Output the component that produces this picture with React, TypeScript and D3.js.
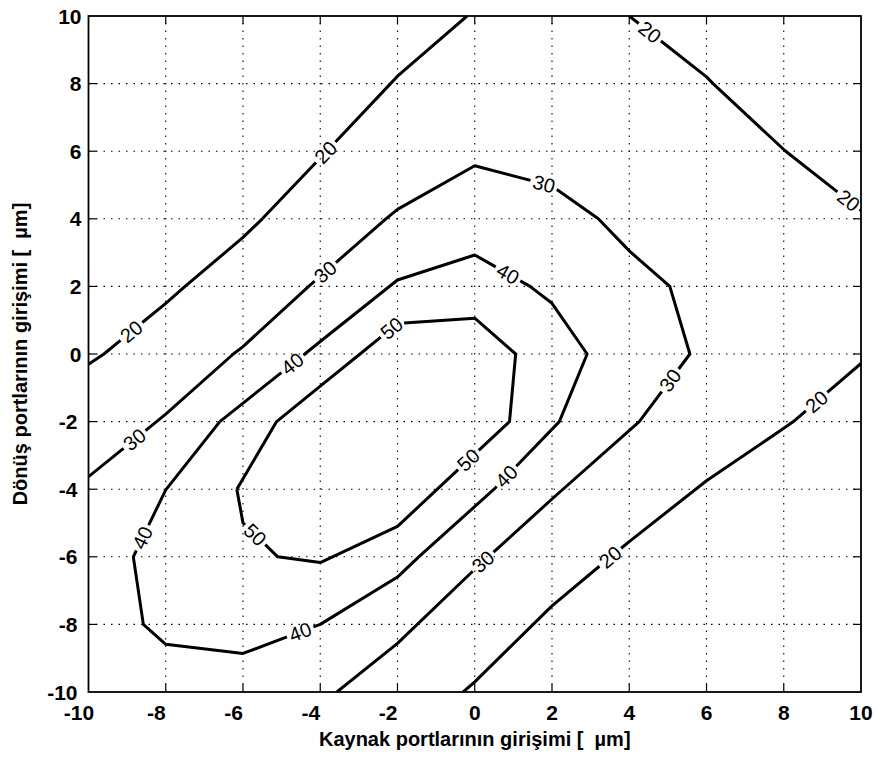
import * as d3 from 'd3';

type P = [number, number];

// contour vertices (data units)
const contour20a: P[] = [[-10, -0.3], [-9.6, 0], [-8, 1.5], [-7.5, 2], [-6, 3.45], [-5.5, 4], [-4, 5.8], [-3.83, 6], [-2.18, 8], [-2, 8.22], [-0.2, 10]];
const contour20b: P[] = [[4.0, 10], [6, 8.2], [6.17, 8], [8, 6.05], [8.05, 6], [10, 4.25]];
const contour20c: P[] = [[-0.3, -10], [0, -9.7], [2, -7.45], [3.52, -6], [4, -5.55], [6, -3.75], [8, -2.2], [8.25, -2], [10, -0.28]];
const contour30: P[] = [[-10, -3.63], [-8, -1.78], [-6.25, 0], [-6, 0.22], [-4.3, 2], [-4, 2.3], [-2.3, 4], [-2, 4.28], [0, 5.57], [2, 4.97], [3.2, 4], [4, 3.05], [5.05, 2], [5.57, 0], [4.26, -2], [2, -4.29], [0, -6.37], [-2, -8.56], [-3.57, -10]];
const contour40: P[] = [[-6.6, -2], [-4.4, 0], [-4, 0.37], [-2, 2.19], [0, 2.93], [1.43, 2], [2, 1.5], [2.91, 0], [2.19, -2], [0.5, -4], [-1.45, -6], [-2, -6.6], [-4, -8.0], [-6, -8.86], [-8, -8.59], [-8.58, -8], [-8.84, -6], [-8, -4.02], [-6.6, -2]];
const contour50: P[] = [[-6.16, -4], [-6, -3.69], [-5.13, -2], [-4, -0.95], [-2.97, 0], [-2, 0.9], [0, 1.06], [1.06, 0], [0.9, -2], [0, -2.96], [-0.97, -4], [-2, -5.1], [-4, -6.17], [-5.1, -6], [-6, -5.0], [-6.16, -4]];

// inline label positions
const labels20a: P[] = [[-8.92, 0.71], [-3.87, 5.98]];
const labels20b: P[] = [[4.54, 9.53], [9.63, 4.47]];
const labels20c: P[] = [[3.5, -6.0], [8.85, -1.41]];
const labels30: P[] = [[-8.97, -2.3], [-3.87, 2.43], [1.8, 5.05], [5.05, -0.77], [0.22, -6.15]];
const labels40: P[] = [[-4.75, -0.25], [0.85, 2.35], [0.83, -3.63], [-4.52, -8.22], [-8.58, -5.45]];
const labels50: P[] = [[-2.15, 0.76], [-0.12, -3.19], [-5.73, -5.4]];

const xTicks = [-10, -8, -6, -4, -2, 0, 2, 4, 6, 8, 10];
const yTicks = [-10, -8, -6, -4, -2, 0, 2, 4, 6, 8, 10];

const xTitle = 'Kaynak portlarının girişimi [\u00a0\u00a0µm]';
const yTitle = 'Dönüş portlarının girişimi [\u00a0\u00a0µm]';

const contours = [
  { level: 20, pts: contour20a, labels: labels20a },
  { level: 20, pts: contour20b, labels: labels20b },
  { level: 20, pts: contour20c, labels: labels20c },
  { level: 30, pts: contour30, labels: labels30 },
  { level: 40, pts: contour40, labels: labels40 },
  { level: 50, pts: contour50, labels: labels50 },
];

const [W, H] = [876, 757];
const [left, right, top, bottom] = [88.5, 861, 16, 692];
const x = d3.scaleLinear().domain([-10, 10]).range([left, right]);
const y = d3.scaleLinear().domain([-10, 10]).range([bottom, top]);
const line = d3.line<number[]>().x(d => d[0]).y(d => d[1]);

const font = 'Liberation Sans, Arial, Helvetica, sans-serif';
const labelSize = 20;

function splitContour(pts: P[], labels: P[], gapHalf: number) {
  const p = pts.map(d => [x(d[0]), y(d[1])]);
  const cum = [0];
  for (let i = 1; i < p.length; i++) cum.push(cum[i - 1] + Math.hypot(p[i][0] - p[i - 1][0], p[i][1] - p[i - 1][1]));
  const L = cum[cum.length - 1];
  const at = (s: number) => {
    let i = 1;
    while (i < p.length - 1 && cum[i] < s) i++;
    const seg = cum[i] - cum[i - 1] || 1;
    const t = (s - cum[i - 1]) / seg;
    return [p[i - 1][0] + t * (p[i][0] - p[i - 1][0]), p[i - 1][1] + t * (p[i][1] - p[i - 1][1])];
  };
  const marks = labels.map(l => {
    const q = [x(l[0]), y(l[1])];
    let best = { d: Infinity, s: 0, ang: 0 };
    for (let i = 1; i < p.length; i++) {
      const a = p[i - 1], b = p[i];
      const dx = b[0] - a[0], dy = b[1] - a[1];
      const len2 = dx * dx + dy * dy || 1;
      const t = Math.max(0, Math.min(1, ((q[0] - a[0]) * dx + (q[1] - a[1]) * dy) / len2));
      const px = a[0] + t * dx, py = a[1] + t * dy;
      const d = Math.hypot(q[0] - px, q[1] - py);
      if (d < best.d) {
        let ang = (Math.atan2(dy, dx) * 180) / Math.PI;
        if (ang > 90) ang -= 180;
        if (ang < -90) ang += 180;
        best = { d, s: cum[i - 1] + t * Math.sqrt(len2), ang };
      }
    }
    return best;
  });
  const gaps = marks.map(m => [Math.max(0, m.s - gapHalf), Math.min(L, m.s + gapHalf)]).sort((a, b) => a[0] - b[0]);
  const pieces: number[][][] = [];
  let start = 0;
  const piece = (s0: number, s1: number) => {
    if (s1 - s0 < 0.5) return;
    const seg = [at(s0)];
    for (let i = 0; i < p.length; i++) if (cum[i] > s0 && cum[i] < s1) seg.push(p[i]);
    seg.push(at(s1));
    pieces.push(seg);
  };
  gaps.forEach(g => {
    piece(start, g[0]);
    start = g[1];
  });
  piece(start, L);
  const texts = marks.map(m => ({ pos: at(m.s), ang: m.ang }));
  return { pieces, texts };
}

export default function App() {
  const gridX = xTicks.filter(t => t > -10 && t < 10);
  const gridY = yTicks.filter(t => t > -10 && t < 10);
  return (
    <svg width={W} height={H} style={{ position: 'absolute', left: 0, top: 0, background: '#fff' }}>
      <defs>
        <clipPath id="plot">
          <rect x={left} y={top} width={right - left} height={bottom - top} />
        </clipPath>
      </defs>
      <rect x={0} y={0} width={W} height={H} fill="#fff" />
      {/* grid */}
      <g stroke="#000" strokeWidth={1.1} strokeDasharray="1.5 6">
        {gridX.map(t => (
          <line key={'gx' + t} x1={x(t)} x2={x(t)} y1={bottom} y2={top} />
        ))}
        {gridY.map(t => (
          <line key={'gy' + t} x1={left} x2={right} y1={y(t)} y2={y(t)} />
        ))}
      </g>
      {/* ticks */}
      <g stroke="#000" strokeWidth={1.2}>
        {gridX.map(t => (
          <g key={'tx' + t}>
            <line x1={x(t)} x2={x(t)} y1={bottom} y2={bottom - 8} />
            <line x1={x(t)} x2={x(t)} y1={top} y2={top + 8} />
          </g>
        ))}
        {gridY.map(t => (
          <g key={'ty' + t}>
            <line x1={left} x2={left + 8} y1={y(t)} y2={y(t)} />
            <line x1={right} x2={right - 8} y1={y(t)} y2={y(t)} />
          </g>
        ))}
      </g>
      {/* contours */}
      <g clipPath="url(#plot)">
        {contours.map((c, ci) => {
          const txt = String(c.level);
          const gapHalf = (txt.length * 0.556 * labelSize) / 2 + 3;
          const { pieces, texts } = splitContour(c.pts, c.labels, gapHalf);
          return (
            <g key={ci}>
              {pieces.map((pc, i) => (
                <path key={i} d={line(pc) || ''} fill="none" stroke="#000" strokeWidth={3} strokeLinejoin="round" />
              ))}
              {texts.map((t, i) => (
                <text
                  key={'t' + i}
                  transform={`translate(${t.pos[0]},${t.pos[1]}) rotate(${t.ang})`}
                  textAnchor="middle"
                  dominantBaseline="central"
                  fontFamily={font}
                  fontSize={labelSize}
                >
                  {txt}
                </text>
              ))}
            </g>
          );
        })}
      </g>
      {/* box */}
      <rect x={left} y={top} width={right - left} height={bottom - top} fill="none" stroke="#000" strokeWidth={1.8} />
      {/* tick labels */}
      <g fontFamily={font} fontWeight="bold" fontSize={21} fill="#000">
        {xTicks.map(t => (
          <text key={'lx' + t} x={x(t) + (t < 0 ? -9.5 : 0)} y={720} textAnchor="middle">
            {t}
          </text>
        ))}
        {yTicks.map(t => (
          <text key={'ly' + t} x={t < 0 ? 77.5 : 81.5} y={y(t) + 7.5} textAnchor="end">
            {t}
          </text>
        ))}
      </g>
      {/* axis titles */}
      <g fontFamily={font} fontWeight="bold" fontSize={20} fill="#000">
        <text x={(left + right) / 2} y={746} textAnchor="middle">
          {xTitle}
        </text>
        <text transform={`translate(27,${(top + bottom) / 2}) rotate(-90)`} textAnchor="middle">
          {yTitle}
        </text>
      </g>
    </svg>
  );
}
